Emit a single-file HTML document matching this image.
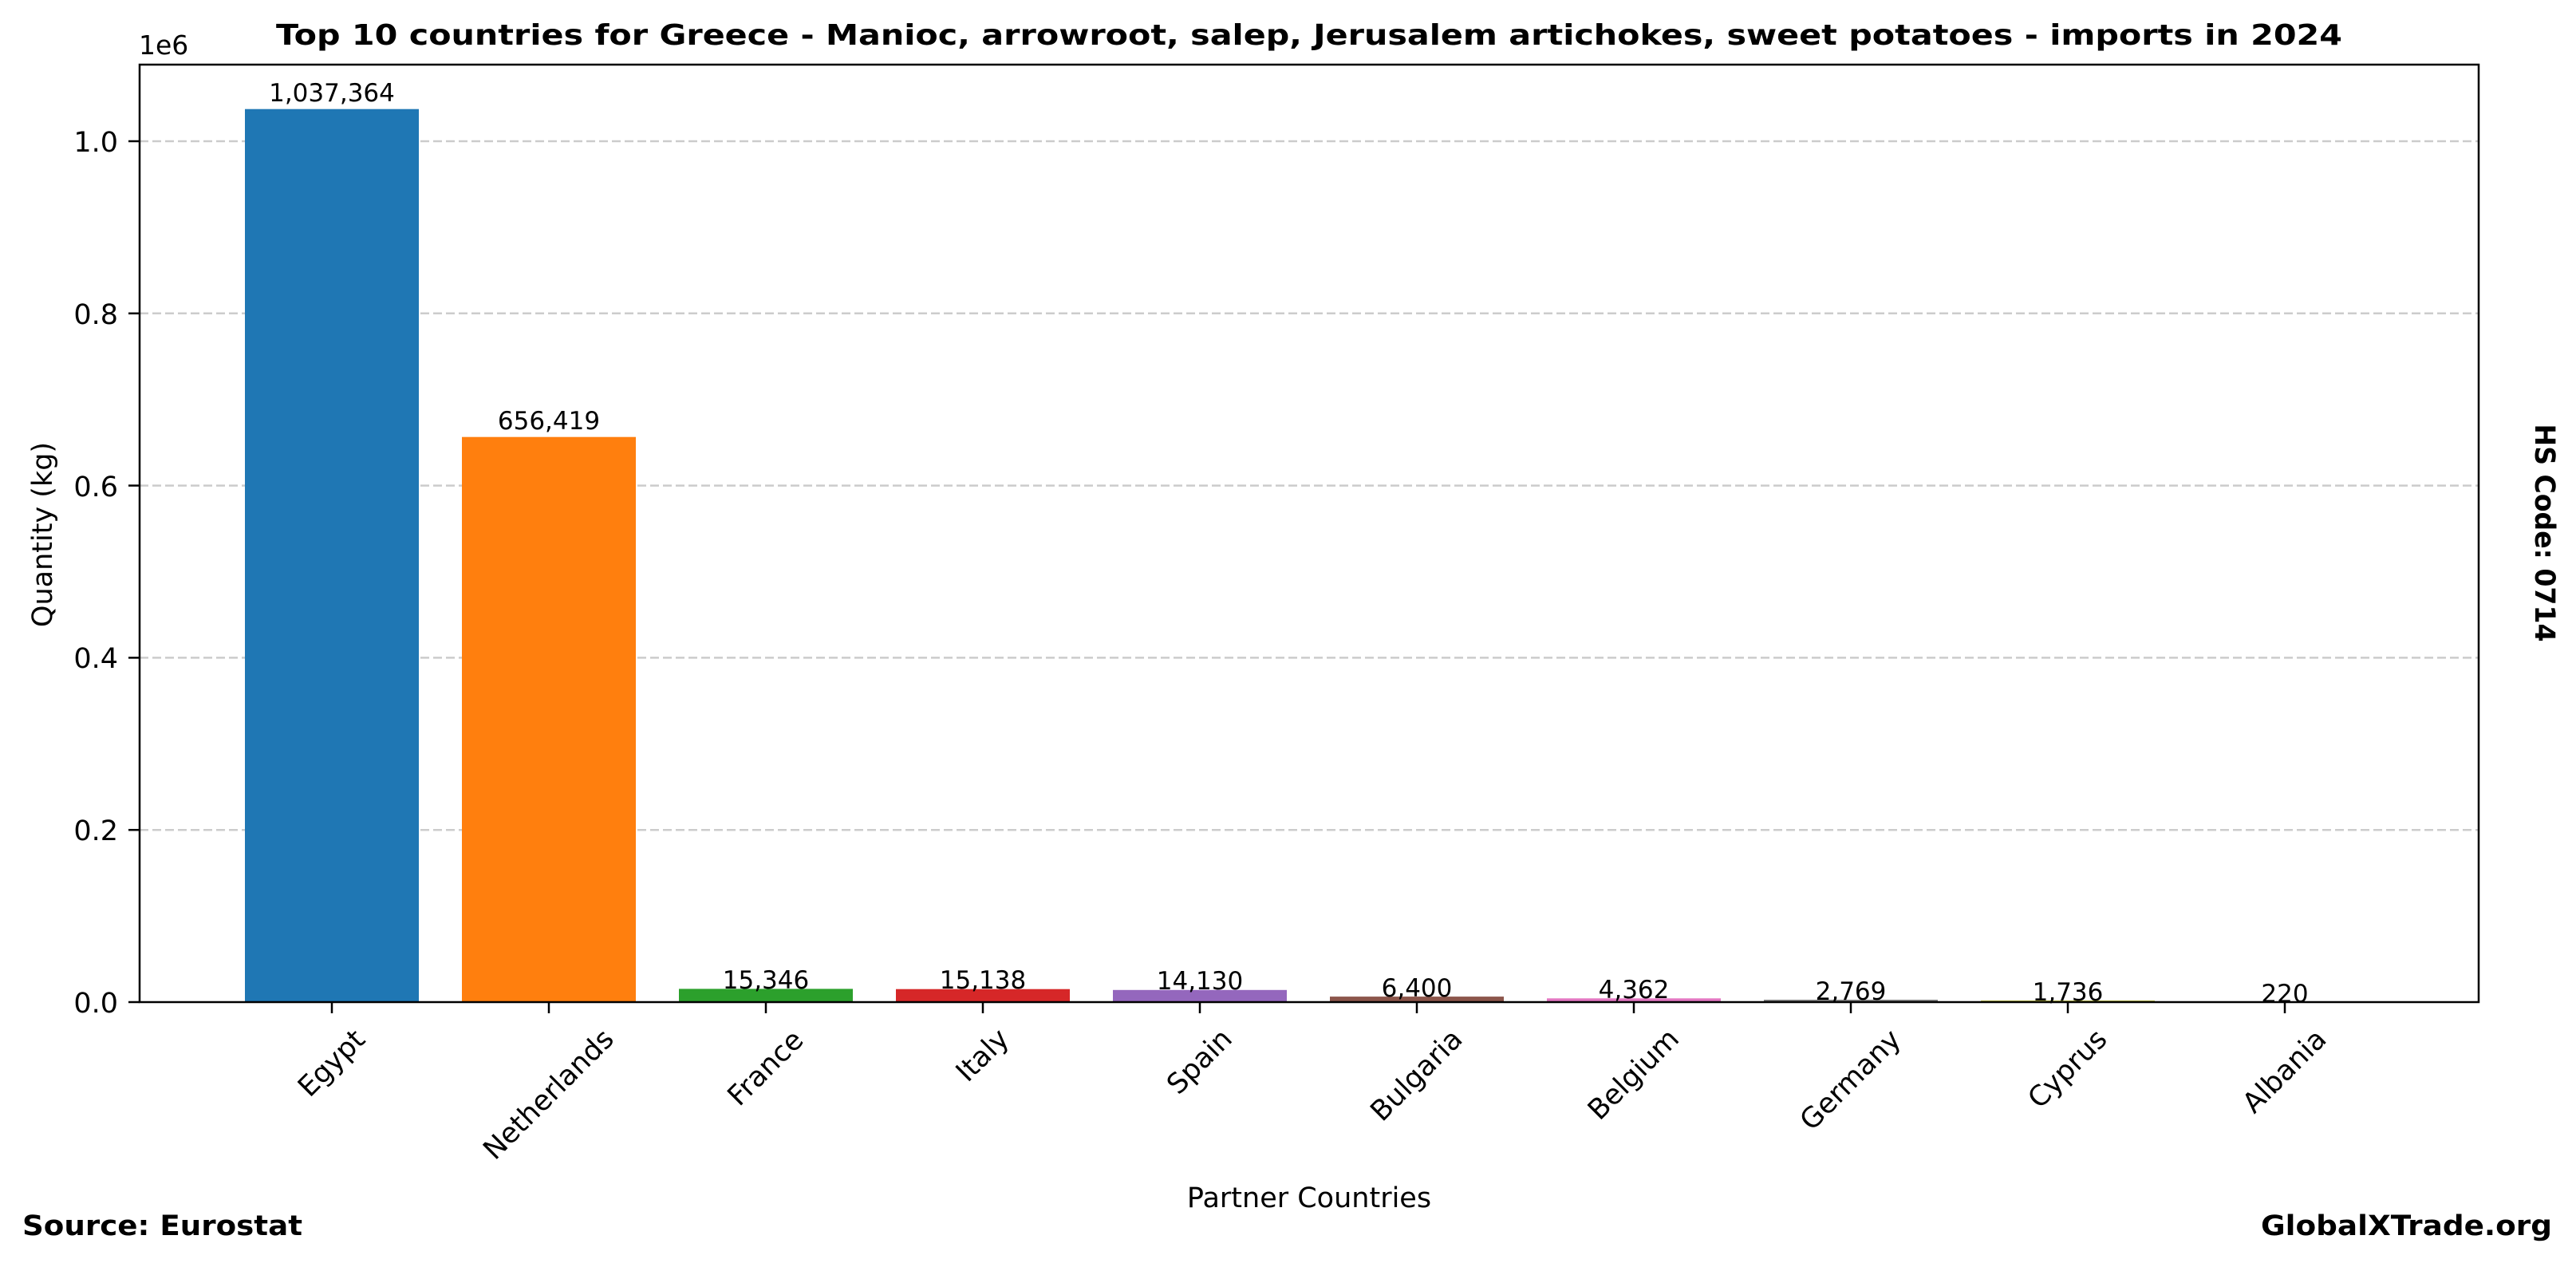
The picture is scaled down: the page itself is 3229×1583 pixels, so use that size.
<!DOCTYPE html>
<html><head><meta charset="utf-8"><style>
html,body{margin:0;padding:0;background:#fff;}
svg{display:block;font-family:"DejaVu Sans","Liberation Sans",sans-serif;}
</style></head><body>
<svg width="3229" height="1583" viewBox="0 0 3229 1583" xmlns="http://www.w3.org/2000/svg">
<rect width="3229" height="1583" fill="#fff"/>
<g stroke="#cccccc" stroke-width="2.5" stroke-dasharray="11,5">
<line x1="175" y1="1040.2" x2="3107" y2="1040.2"/>
<line x1="175" y1="824.4" x2="3107" y2="824.4"/>
<line x1="175" y1="608.6" x2="3107" y2="608.6"/>
<line x1="175" y1="392.8" x2="3107" y2="392.8"/>
<line x1="175" y1="177" x2="3107" y2="177"/>
</g>
<g>
<rect x="307" y="136.7" width="218" height="1119.3" fill="#1f77b4"/>
<rect x="579" y="547.7" width="218" height="708.3" fill="#ff7f0e"/>
<rect x="851" y="1239.4" width="218" height="16.6" fill="#2ca02c"/>
<rect x="1123" y="1239.7" width="218" height="16.3" fill="#d62728"/>
<rect x="1395" y="1240.8" width="218" height="15.2" fill="#9467bd"/>
<rect x="1667" y="1249.1" width="218" height="6.9" fill="#8c564b"/>
<rect x="1939" y="1251.3" width="218" height="4.7" fill="#e377c2"/>
<rect x="2211" y="1253.0" width="218" height="3" fill="#7f7f7f"/>
<rect x="2483" y="1254.1" width="218" height="1.9" fill="#bcbd22"/>
<rect x="2755" y="1255.5" width="218" height="0.5" fill="#17becf"/>
</g>
<g font-size="31" text-anchor="middle" fill="#000">
<text x="416" y="127">1,037,364</text>
<text x="688" y="538">656,419</text>
<text x="960" y="1239">15,346</text>
<text x="1232" y="1239">15,138</text>
<text x="1504" y="1240">14,130</text>
<text x="1776" y="1249">6,400</text>
<text x="2048" y="1251">4,362</text>
<text x="2320" y="1253">2,769</text>
<text x="2592" y="1254">1,736</text>
<text x="2864" y="1256">220</text>
</g>
<rect x="175" y="81" width="2932" height="1175" fill="none" stroke="#000" stroke-width="2.5"/>
<g stroke="#000" stroke-width="2.5">
<line x1="161" y1="1256" x2="175" y2="1256"/>
<line x1="161" y1="1040.2" x2="175" y2="1040.2"/>
<line x1="161" y1="824.4" x2="175" y2="824.4"/>
<line x1="161" y1="608.6" x2="175" y2="608.6"/>
<line x1="161" y1="392.8" x2="175" y2="392.8"/>
<line x1="161" y1="177" x2="175" y2="177"/>
</g>
<g font-size="35" text-anchor="end" fill="#000">
<text x="148" y="1269">0.0</text>
<text x="148" y="1053">0.2</text>
<text x="148" y="837">0.4</text>
<text x="148" y="622">0.6</text>
<text x="148" y="406">0.8</text>
<text x="148" y="190">1.0</text>
</g>
<text x="174" y="68" font-size="33">1e6</text>
<g stroke="#000" stroke-width="2.5">
<line x1="416" y1="1256" x2="416" y2="1270"/>
<line x1="688" y1="1256" x2="688" y2="1270"/>
<line x1="960" y1="1256" x2="960" y2="1270"/>
<line x1="1232" y1="1256" x2="1232" y2="1270"/>
<line x1="1504" y1="1256" x2="1504" y2="1270"/>
<line x1="1776" y1="1256" x2="1776" y2="1270"/>
<line x1="2048" y1="1256" x2="2048" y2="1270"/>
<line x1="2320" y1="1256" x2="2320" y2="1270"/>
<line x1="2592" y1="1256" x2="2592" y2="1270"/>
<line x1="2864" y1="1256" x2="2864" y2="1270"/>
</g>
<g font-size="35" text-anchor="middle" dominant-baseline="central" fill="#000">
<text transform="translate(416,1333) rotate(-45)">Egypt</text>
<text transform="translate(688,1372) rotate(-45)">Netherlands</text>
<text transform="translate(960,1339) rotate(-45)">France</text>
<text transform="translate(1232,1323) rotate(-45)">Italy</text>
<text transform="translate(1504,1331) rotate(-45)">Spain</text>
<text transform="translate(1776,1348) rotate(-45)">Bulgaria</text>
<text transform="translate(2048,1347) rotate(-45)">Belgium</text>
<text transform="translate(2320,1354) rotate(-45)">Germany</text>
<text transform="translate(2592,1340) rotate(-45)">Cyprus</text>
<text transform="translate(2864,1343) rotate(-45)">Albania</text>
</g>
<text x="1641" y="1513" font-size="35" text-anchor="middle">Partner Countries</text>
<text transform="translate(65,670) rotate(-90)" font-size="35" text-anchor="middle">Quantity (kg)</text>
<text x="1641" y="56" font-size="36" font-weight="bold" text-anchor="middle" textLength="2590" lengthAdjust="spacingAndGlyphs">Top 10 countries for Greece - Manioc, arrowroot, salep, Jerusalem artichokes, sweet potatoes - imports in 2024</text>
<text transform="translate(3178,668) rotate(90)" font-size="35" font-weight="bold" text-anchor="middle" textLength="273" lengthAdjust="spacingAndGlyphs">HS Code: 0714</text>
<text x="28" y="1548" font-size="35" font-weight="bold" textLength="351" lengthAdjust="spacingAndGlyphs">Source: Eurostat</text>
<text x="3199" y="1548" font-size="35" font-weight="bold" text-anchor="end" textLength="365" lengthAdjust="spacingAndGlyphs">GlobalXTrade.org</text>
</svg>
</body></html>
